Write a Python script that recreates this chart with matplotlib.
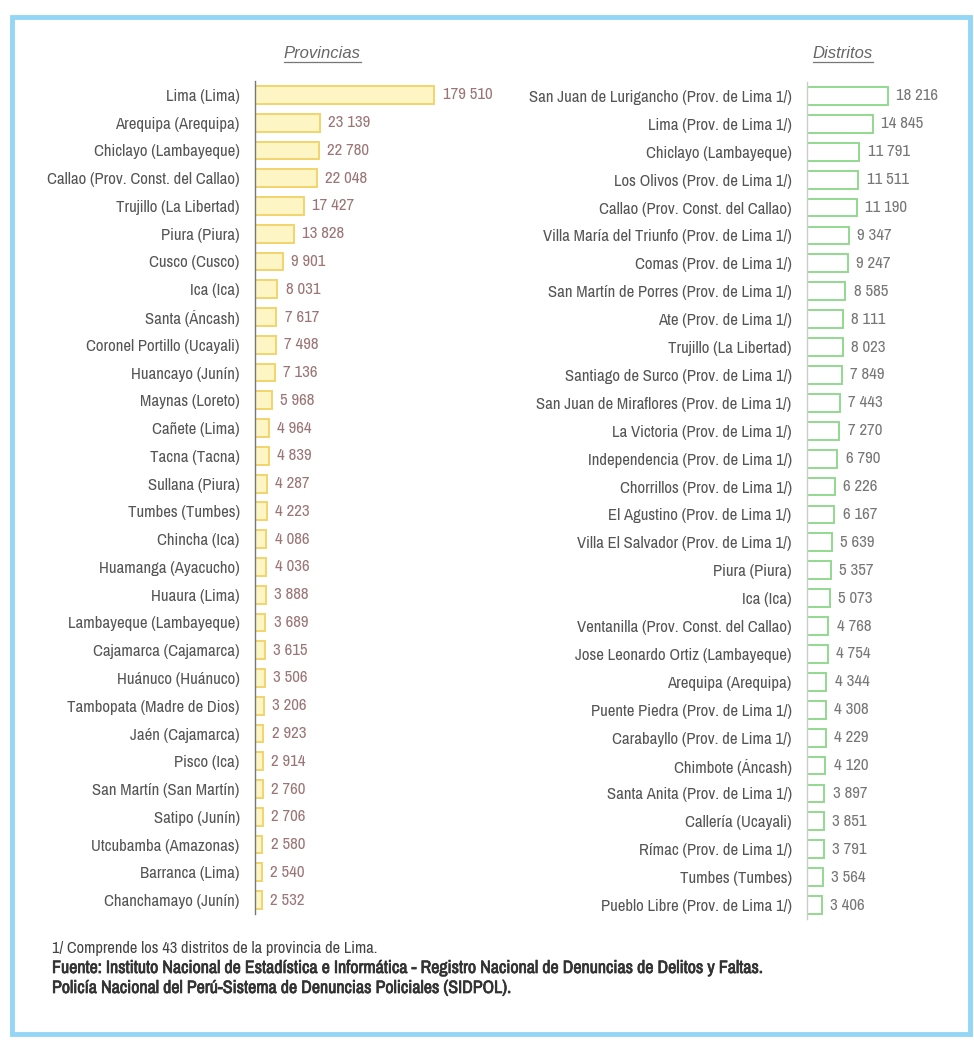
import matplotlib
matplotlib.use("Agg")
import matplotlib.pyplot as plt
import numpy as np
from matplotlib import font_manager
from matplotlib import patheffects
from matplotlib.lines import Line2D
from matplotlib.patches import Rectangle

# the original uses a narrow face; take one if the system has it
entries = font_manager.fontManager.ttflist
narrow = sorted({f.name for f in entries
                 if 'Narrow' in f.name or 'Condensed' in f.name})
cond = sorted({f.name for f in entries if f.stretch in ('condensed', 'semi-condensed')})
FAMILY = narrow[:1] + cond[:1] + ['Liberation Sans', 'DejaVu Sans']
plt.rcParams['font.family'] = FAMILY
if cond and not narrow:
    plt.rcParams['font.stretch'] = 'condensed'

# --- data -------------------------------------------------------------
prov_names = ["Lima (Lima)", "Arequipa (Arequipa)", "Chiclayo (Lambayeque)",
              "Callao (Prov. Const. del Callao)", "Trujillo (La Libertad)",
              "Piura (Piura)", "Cusco (Cusco)", "Ica (Ica)", "Santa (Áncash)",
              "Coronel Portillo (Ucayali)", "Huancayo (Junín)", "Maynas (Loreto)",
              "Cañete (Lima)", "Tacna (Tacna)", "Sullana (Piura)", "Tumbes (Tumbes)",
              "Chincha (Ica)", "Huamanga (Ayacucho)", "Huaura (Lima)",
              "Lambayeque (Lambayeque)", "Cajamarca (Cajamarca)",
              "Huánuco (Huánuco)", "Tambopata (Madre de Dios)", "Jaén (Cajamarca)",
              "Pisco (Ica)", "San Martín (San Martín)", "Satipo (Junín)",
              "Utcubamba (Amazonas)", "Barranca (Lima)", "Chanchamayo (Junín)"]
prov_values = [179510, 23139, 22780, 22048, 17427, 13828, 9901, 8031, 7617,
               7498, 7136, 5968, 4964, 4839, 4287, 4223, 4086, 4036, 3888,
               3689, 3615, 3506, 3206, 2923, 2914, 2760, 2706, 2580, 2540, 2532]

dist_names = ["San Juan de Lurigancho (Prov. de Lima 1/)", "Lima (Prov. de Lima 1/)",
              "Chiclayo (Lambayeque)", "Los Olivos (Prov. de Lima 1/)",
              "Callao (Prov. Const. del Callao)", "Villa María del Triunfo (Prov. de Lima 1/)",
              "Comas (Prov. de Lima 1/)", "San Martín de Porres (Prov. de Lima 1/)",
              "Ate (Prov. de Lima 1/)", "Trujillo (La Libertad)",
              "Santiago de Surco (Prov. de Lima 1/)", "San Juan de Miraflores (Prov. de Lima 1/)",
              "La Victoria (Prov. de Lima 1/)", "Independencia (Prov. de Lima 1/)",
              "Chorrillos (Prov. de Lima 1/)", "El Agustino (Prov. de Lima 1/)",
              "Villa El Salvador (Prov. de Lima 1/)", "Piura (Piura)", "Ica (Ica)",
              "Ventanilla (Prov. Const. del Callao)", "Jose Leonardo Ortiz (Lambayeque)",
              "Arequipa (Arequipa)", "Puente Piedra (Prov. de Lima 1/)",
              "Carabayllo (Prov. de Lima 1/)", "Chimbote (Áncash)",
              "Santa Anita (Prov. de Lima 1/)", "Callería (Ucayali)",
              "Rímac (Prov. de Lima 1/)", "Tumbes (Tumbes)", "Pueblo Libre (Prov. de Lima 1/)"]
dist_values = [18216, 14845, 11791, 11511, 11190, 9347, 9247, 8585, 8111, 8023,
               7849, 7443, 7270, 6790, 6226, 6167, 5639, 5357, 5073, 4768,
               4754, 4344, 4308, 4229, 4120, 3897, 3851, 3791, 3564, 3406]

notes = ["1/ Comprende los 43 distritos de la provincia de Lima.",
         "Fuente: Instituto Nacional de Estadística e Informática - Registro Nacional de Denuncias de Delitos y Faltas.",
         "Policía Nacional del Perú-Sistema de Denuncias Policiales (SIDPOL)."]

PROV_CAP = 64000   # the Lima bar is drawn truncated, as in the original

def fmt(v):
    return f"{v:,}".replace(",", " ")

fig = plt.figure(figsize=(9.74, 10.4), dpi=100)
renderer = fig.canvas.get_renderer()

def fit_size(text, target_px, base=11, **kw):
    # font size that makes `text` about target_px wide
    t = fig.text(0, 0, text, fontsize=base, **kw)
    w = t.get_window_extent(renderer).width
    t.remove()
    return base * target_px / w

LAB = min(fit_size(prov_names[3], 193), 12.5)
VAL = min(fit_size("179 510", 50), 12.5)
NOTE_B = fit_size(notes[1], 714)
NOTE_R = fit_size(notes[0], 325)

# light blue frame
fig.patches.append(Rectangle((12 / 974, 6 / 1040), 958 / 974, 1017 / 1040,
                             transform=fig.transFigure, fill=False,
                             edgecolor="#93d6f5", linewidth=3.5))

label_color = "#555555"

def panel(rect, names, values, xmax, face, edge, val_color, cap=None):
    ax = fig.add_axes(rect)
    y = np.arange(len(names))
    widths = np.minimum(values, cap) if cap else np.asarray(values)
    ax.barh(y, widths, height=0.64, color=face, edgecolor=edge, linewidth=1.4)
    for yi, w, v in zip(y, widths, values):
        ax.annotate(fmt(v), (w, yi), xytext=(6, 0), textcoords="offset points",
                    va="center", ha="left", fontsize=VAL, color=val_color)
    ax.set_xlim(0, xmax)
    ax.set_ylim(len(names) - 0.5, -0.5)
    ax.set_yticks(y)
    ax.set_yticklabels(names, fontsize=LAB, color=label_color)
    ax.tick_params(axis="y", length=0, pad=11)
    ax.set_xticks([])
    for s in ["top", "right", "bottom"]:
        ax.spines[s].set_visible(False)
    ax.spines["left"].set_color("#777777")
    ax.spines["left"].set_linewidth(1.0)
    ax.patch.set_alpha(0)
    return ax

ax1 = panel([255 / 974, 1 - 914 / 1040, 200 / 974, 833 / 1040],
            prov_names, prov_values, 71400, "#fdf6c4", "#f3d46c", "#9c7676",
            cap=PROV_CAP)
ax2 = panel([807 / 974, 1 - 919 / 1040, 153 / 974, 837 / 1040],
            dist_names, dist_values, 34400, "white", "#93d98f", "#777777")
ax2.spines["left"].set_color("#cccccc")

# underlined italic headers
titles = []
for txt, xc in [("Provincias", 322), ("Distritos", 843)]:
    t = fig.text(xc / 974, 1 - 53 / 1040, txt, ha="center", va="center",
                 fontsize=12, style="italic", color="#666666",
                 family=["Liberation Sans", "DejaVu Sans"], stretch="normal")
    titles.append(t)
fig.canvas.draw()
r = fig.canvas.get_renderer()
for t in titles:
    bb = t.get_window_extent(r).transformed(fig.transFigure.inverted())
    fig.add_artist(Line2D([bb.x0, bb.x1], [bb.y0 - 0.001, bb.y0 - 0.001],
                          transform=fig.transFigure, color="#777777", lw=0.9))

# footnotes (the narrow face has no bold, so thicken the strokes a little)
bold = [patheffects.withStroke(linewidth=0.5, foreground="#333333")]
fig.text(52 / 974, 1 - 948 / 1040, notes[0], fontsize=NOTE_R, color="#444444", va="center")
fig.text(52 / 974, 1 - 968 / 1040, notes[1], fontsize=NOTE_B, color="#333333",
         va="center", path_effects=bold)
fig.text(52 / 974, 1 - 988 / 1040, notes[2], fontsize=NOTE_B, color="#333333",
         va="center", path_effects=bold)

fig.savefig("out.png", dpi=100)
